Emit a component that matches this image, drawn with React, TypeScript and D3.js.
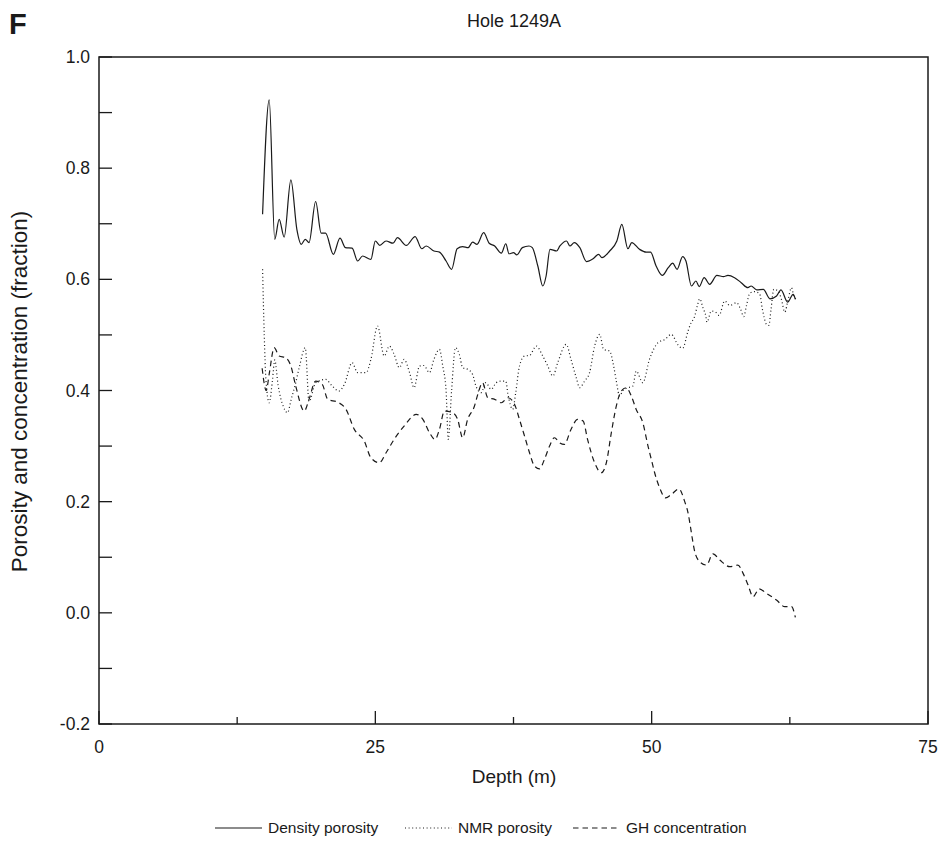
import React from "react";
import * as d3 from "d3";

const densityDepth = [14.8,15.4,15.9,16.3,16.75,17.36,17.9,18.3,18.66,19.0,19.6,20.1,20.5,21.2,21.8,22.3,22.9,23.4,23.85,24.6,25.0,25.4,25.97,26.6,27.0,27.8,28.6,29.2,29.6,30.3,30.8,31.4,31.9,32.4,32.9,33.4,33.8,34.2,34.8,35.3,35.8,36.4,36.8,37.1,37.5,37.8,38.3,38.9,39.2,39.7,40.15,40.45,40.8,41.4,41.7,42.3,42.6,43.0,43.5,44.1,44.7,45.2,45.5,46.2,46.85,47.3,47.85,48.2,48.9,49.5,49.9,50.4,50.96,51.5,51.9,52.3,52.8,53.1,53.6,54.0,54.3,54.75,55.25,55.9,56.5,56.9,57.5,58.1,58.7,59.0,59.5,60.1,60.7,61.3,61.7,62.3,62.8,63.0];
const densityPorosity = [0.717,0.923,0.672,0.708,0.676,0.779,0.69,0.663,0.672,0.666,0.74,0.683,0.683,0.645,0.674,0.657,0.656,0.633,0.642,0.636,0.669,0.661,0.669,0.665,0.675,0.661,0.677,0.655,0.66,0.651,0.649,0.633,0.618,0.655,0.659,0.657,0.667,0.663,0.684,0.665,0.66,0.647,0.664,0.646,0.648,0.644,0.657,0.66,0.657,0.624,0.588,0.606,0.654,0.651,0.66,0.669,0.66,0.666,0.657,0.632,0.637,0.645,0.639,0.651,0.669,0.699,0.655,0.666,0.654,0.649,0.649,0.624,0.607,0.621,0.629,0.618,0.641,0.633,0.588,0.597,0.587,0.603,0.591,0.607,0.605,0.607,0.603,0.594,0.585,0.588,0.581,0.582,0.565,0.57,0.581,0.559,0.573,0.564];

const nmrDepth = [14.8,14.95,15.1,15.4,15.7,15.9,16.2,16.7,17.05,17.4,17.75,18.1,18.66,19.0,19.6,20.5,21.1,21.7,22.2,22.9,23.4,24.16,24.6,25.2,25.8,26.27,26.7,27.17,27.6,28.1,28.5,29.0,29.4,29.9,30.3,30.8,31.1,31.4,31.6,31.9,32.25,32.6,32.9,33.36,33.8,34.1,34.57,35.0,35.48,35.93,36.4,36.8,37.0,37.43,37.7,38.04,38.5,38.95,39.56,40.15,40.6,41.06,41.5,42.27,42.7,43.18,43.48,43.93,44.38,44.84,45.3,45.65,46.2,46.56,46.8,47.1,47.4,47.85,48.3,48.6,49.2,49.8,50.57,51.2,51.78,52.38,52.8,53.29,53.5,53.9,54.14,54.35,54.65,54.9,55.0,55.4,55.85,56.1,56.6,57.07,57.67,58.03,58.33,58.57,58.88,59.33,59.78,60.02,60.39,60.6,60.8,61.05,61.44,61.74,62.04,62.35,62.65,62.86,63.04];
const nmrPorosity = [0.618,0.5,0.42,0.378,0.42,0.455,0.41,0.37,0.36,0.385,0.41,0.44,0.477,0.38,0.414,0.42,0.408,0.399,0.411,0.45,0.432,0.432,0.456,0.516,0.462,0.48,0.465,0.441,0.456,0.432,0.405,0.444,0.445,0.432,0.456,0.474,0.444,0.4,0.312,0.4,0.477,0.465,0.441,0.438,0.429,0.408,0.396,0.414,0.402,0.414,0.417,0.417,0.393,0.366,0.396,0.444,0.462,0.463,0.48,0.462,0.444,0.426,0.45,0.483,0.456,0.423,0.405,0.417,0.432,0.48,0.501,0.474,0.471,0.444,0.417,0.39,0.4,0.405,0.408,0.435,0.414,0.456,0.486,0.492,0.501,0.482,0.476,0.507,0.519,0.534,0.553,0.565,0.548,0.534,0.523,0.543,0.54,0.535,0.561,0.553,0.558,0.547,0.533,0.552,0.575,0.578,0.573,0.546,0.519,0.517,0.546,0.582,0.579,0.564,0.541,0.564,0.585,0.57,0.565];

const ghDepth = [14.76,15.13,15.4,15.85,16.3,16.9,17.36,17.8,18.57,19.0,19.6,20.2,20.7,21.6,22.35,23.1,24.0,24.6,25.36,25.97,26.7,27.6,28.7,29.3,29.9,30.4,30.8,31.25,32.0,32.45,32.9,33.35,33.97,34.27,34.7,35.17,35.8,36.4,37.0,37.6,38.04,38.5,38.95,39.4,39.86,40.3,40.76,41.2,41.67,42.1,42.7,43.3,43.8,44.2,44.84,45.44,45.9,46.35,46.8,47.25,47.7,48.16,48.6,49.2,49.67,49.97,50.27,50.66,51.27,51.78,52.47,52.99,53.29,53.5,53.69,53.9,54.35,54.95,55.55,56.16,57.07,57.8,58.27,58.72,59.18,59.72,60.39,61.29,62.05,62.65,63.0];
const ghConcentration = [0.44,0.4,0.43,0.477,0.462,0.459,0.444,0.408,0.363,0.384,0.417,0.411,0.384,0.379,0.366,0.33,0.309,0.279,0.27,0.288,0.312,0.336,0.357,0.348,0.324,0.312,0.33,0.363,0.36,0.348,0.315,0.348,0.372,0.393,0.414,0.387,0.384,0.378,0.387,0.375,0.348,0.318,0.288,0.264,0.259,0.276,0.3,0.315,0.306,0.303,0.33,0.348,0.345,0.312,0.27,0.252,0.27,0.324,0.372,0.399,0.405,0.39,0.366,0.342,0.3,0.276,0.252,0.228,0.207,0.213,0.223,0.2,0.18,0.156,0.132,0.11,0.092,0.086,0.106,0.095,0.083,0.086,0.071,0.05,0.029,0.043,0.035,0.023,0.011,0.011,-0.008];

const xTicksMajor = [0, 25, 50, 75];
const xTicksMinor = [12.5, 37.5, 62.5];
const yTicks = [-0.2, -0.1, 0, 0.1, 0.2, 0.3, 0.4, 0.5, 0.6, 0.7, 0.8, 0.9, 1.0];
const yTickLabels = [-0.2, 0, 0.2, 0.4, 0.6, 0.8, 1.0];

const legendItems = [
  { label: "Density porosity", dash: "none" },
  { label: "NMR porosity", dash: "1,2.6" },
  { label: "GH concentration", dash: "5.5,4" },
];

const FONT = "'Liberation Sans', Arial, Helvetica, sans-serif";
const INK = "#1a1a1a";

export default function App() {
  const left = 99, right = 928, top = 57, bottom = 724;
  const x = d3.scaleLinear().domain([0, 75]).range([left, right]);
  const y = d3.scaleLinear().domain([-0.2, 1.0]).range([bottom, top]);

  const line = d3
    .line<[number, number]>()
    .x((d) => x(d[0]))
    .y((d) => y(d[1]))
    .curve(d3.curveMonotoneX);

  const series = [
    { pts: densityDepth.map((d, i) => [d, densityPorosity[i]] as [number, number]), dash: "none", w: 1.2 },
    { pts: nmrDepth.map((d, i) => [d, nmrPorosity[i]] as [number, number]), dash: "1,2.6", w: 1.2 },
    { pts: ghDepth.map((d, i) => [d, ghConcentration[i]] as [number, number]), dash: "5.5,4", w: 1.2 },
  ];

  const legendX = [215, 405, 573];
  const legendY = 828;

  return (
    <svg
      width={940}
      height={842}
      style={{ position: "absolute", left: 0, top: 0, background: "#fff" }}
      fontFamily={FONT}
    >
      <rect x={0} y={0} width={940} height={842} fill="#fff" />
      <text x={9} y={34} fontSize={29} fontWeight="bold" fill={INK}>F</text>
      <text x={514} y={27} fontSize={18} textAnchor="middle" fill={INK}>Hole 1249A</text>

      {series.map((s, i) => (
        <path
          key={i}
          d={line(s.pts) || ""}
          fill="none"
          stroke={INK}
          strokeWidth={s.w}
          strokeDasharray={s.dash}
        />
      ))}

      <rect x={left} y={top} width={right - left} height={bottom - top} fill="none" stroke={INK} strokeWidth={1.5} />

      {yTicks.map((t) => (
        <line key={"yt" + t} x1={left} x2={left + 13} y1={y(t)} y2={y(t)} stroke={INK} strokeWidth={1.3} />
      ))}
      {yTickLabels.map((t) => (
        <text key={"yl" + t} x={90} y={y(t)} dy="0.35em" fontSize={17.5} textAnchor="end" fill={INK}>
          {d3.format(".1f")(t).replace("−", "-")}
        </text>
      ))}
      {xTicksMajor.map((t) => (
        <g key={"xt" + t}>
          <line x1={x(t)} x2={x(t)} y1={bottom} y2={bottom - 13} stroke={INK} strokeWidth={1.3} />
          <text x={x(t)} y={753} fontSize={17.5} textAnchor="middle" fill={INK}>{t}</text>
        </g>
      ))}
      {xTicksMinor.map((t) => (
        <line key={"xm" + t} x1={x(t)} x2={x(t)} y1={bottom} y2={bottom - 7} stroke={INK} strokeWidth={1.3} />
      ))}

      <text x={514} y={783} fontSize={19} textAnchor="middle" fill={INK}>Depth (m)</text>
      <text
        transform={`translate(27,${(top + bottom) / 2 + 1}) rotate(-90)`}
        fontSize={22.5}
        textAnchor="middle"
        fill={INK}
      >
        Porosity and concentration (fraction)
      </text>

      {legendItems.map((item, i) => (
        <g key={item.label}>
          <line
            x1={legendX[i]}
            x2={legendX[i] + 47}
            y1={legendY}
            y2={legendY}
            stroke={INK}
            strokeWidth={1.1}
            strokeDasharray={item.dash}
          />
          <text x={legendX[i] + 53} y={legendY + 5} fontSize={15.5} fill={INK}>{item.label}</text>
        </g>
      ))}
    </svg>
  );
}
